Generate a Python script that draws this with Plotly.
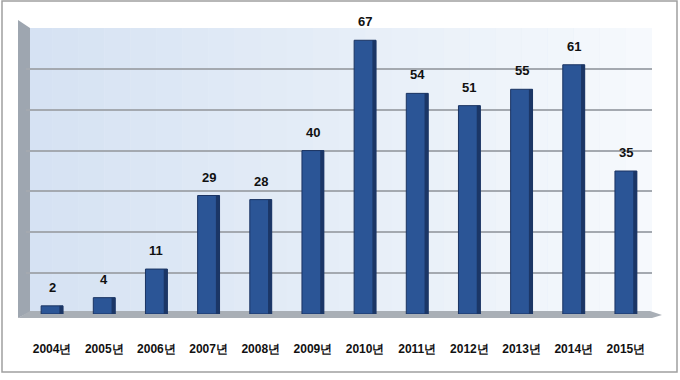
import plotly.graph_objects as go

years = ["2004년", "2005년", "2006년", "2007년", "2008년", "2009년",
         "2010년", "2011년", "2012년", "2013년", "2014년", "2015년"]
counts = [2, 4, 11, 29, 28, 40, 67, 54, 51, 55, 61, 35]

W, H = 680, 380
L, R, T, B = 26, 28, 28, 66
pw, ph = W - L - R, H - T - B
FONT = "Liberation Sans Narrow, Liberation Sans, Arial"


def px(x):
    return (x - L) / pw


def py(y):
    return (H - B - y) / ph


shapes = []
# back wall gradient (light blue -> near white)
n = 24
for i in range(n):
    f = i / (n - 1)
    r = int(214 + (246 - 214) * f)
    g = int(226 + (249 - 226) * f)
    b = int(243 + (253 - 243) * f)
    shapes.append(dict(type="rect", xref="paper", yref="paper", layer="below",
                       x0=i / n, x1=(i + 1) / n, y0=0, y1=1,
                       fillcolor=f"rgb({r},{g},{b})", line=dict(width=0)))
# left wall
shapes.append(dict(type="path", xref="paper", yref="paper", layer="below",
                   path=f"M {px(18)},{py(20)} L {px(30)},{py(28)} L {px(30)},{py(312)} L {px(18)},{py(318)} Z",
                   fillcolor="#9ea6b0", line=dict(width=0)))
# floor
shapes.append(dict(type="path", xref="paper", yref="paper", layer="below",
                   path=f"M {px(18)},{py(318)} L {px(30)},{py(311)} L {px(650)},{py(311)} L {px(662)},{py(315)} L {px(652)},{py(318)} Z",
                   fillcolor="#a9afb6", line=dict(width=0)))
# outer frame
shapes.append(dict(type="rect", xref="paper", yref="paper", layer="above",
                   x0=px(2), x1=px(677), y0=py(372), y1=py(1),
                   line=dict(color="#a0a0a0", width=1.5), fillcolor="rgba(0,0,0,0)"))

fig = go.Figure()
fig.add_trace(go.Bar(
    x=years, y=counts,
    width=0.42, offset=-0.21,
    marker=dict(color="#2b5596", line=dict(color="#1a3362", width=1)),
    hoverinfo="x+y",
))
# darker right side face for a 3D look
fig.add_trace(go.Bar(
    x=years, y=counts,
    width=0.07, offset=0.14,
    marker=dict(color="#1b3666", line=dict(width=0)),
    hoverinfo="skip",
))

annotations = [dict(x=yr, y=v, text=f"<b>{v}</b>", showarrow=False,
                    yanchor="bottom", yshift=9,
                    font=dict(family=FONT, size=13, color="#111111"))
               for yr, v in zip(years, counts)]

fig.update_layout(
    width=W, height=H,
    margin=dict(l=L, r=R, t=T, b=B),
    paper_bgcolor="white",
    plot_bgcolor="#e4ecf8",
    showlegend=False,
    barmode="overlay",
    shapes=shapes,
    annotations=annotations,
    xaxis=dict(
        showgrid=False, zeroline=False, showline=False,
        ticks="", ticklabelstandoff=26,
        tickvals=years, ticktext=[f"<b>{y}</b>" for y in years],
        tickfont=dict(family=FONT, size=12, color="#111111"),
    ),
    yaxis=dict(
        range=[0, 70], dtick=10, showticklabels=False,
        showgrid=True, gridcolor="#a4a9b0", gridwidth=2,
        zeroline=False, showline=False, ticks="",
    ),
)

fig.write_html("out.html", config={"displayModeBar": False},
               post_script="document.body.style.margin='0';document.body.style.overflow='hidden';")
